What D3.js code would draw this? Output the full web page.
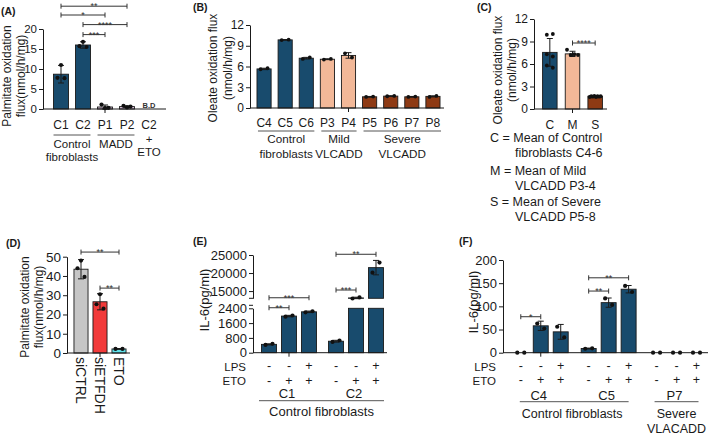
<!DOCTYPE html>
<html><head><meta charset="utf-8">
<script src="https://cdn.jsdelivr.net/npm/d3@7"></script>
<style>body{margin:0;background:#fff} svg{display:block}</style>
</head><body>
<script>
// ================= DATA =================
// Panel A: palmitate oxidation flux
const aCategories = ["C1","C2","P1","P2","C2+ETO"];
const aTickLabels = ["C1","C2","P1","P2","C2"];
const aMeans = [8.7, 16.0, 0.5, 0.6, null];
const aSD = [2.2, 0.8, 0.5, 0.2, null];
const aPoints = [[11.0,7.8,7.7],[16.8,15.7,15.5],[0.2,1.1,0.3],[0.4,0.8,0.6],[]];
const aYTicks = [0,5,10,15,20];
const aBrackets = [["C1","P2","**",25.7],["C1","P1","*",23.5],["C2","P2","****",21.1],["C2","P1","***",18.6]];

// Panel B: oleate oxidation flux
const bCategories = ["C4","C5","C6","P3","P4","P5","P6","P7","P8"];
const bMeans = [5.65, 9.85, 7.2, 7.05, 7.6, 1.62, 1.72, 1.62, 1.68];
const bSD = [0.1, 0.05, 0.12, 0.06, 0.4, 0.05, 0.05, 0.05, 0.08];
const bPoints = [[5.6,5.75],[9.82,9.88],[7.1,7.3],[7.0,7.1],[7.9,7.3],[1.6,1.65],[1.7,1.75],[1.6,1.65],[1.6,1.75]];
const bYTicks = [0,3,6,9,12];
const bGroups = [{from:"C4",to:"C6",lines:["Control","fibroblasts"]},{from:"P3",to:"P4",lines:["Mild","VLCADD"]},{from:"P5",to:"P8",lines:["Severe","VLCADD"]}];

// Panel C: group means
const cCategories = ["C","M","S"];
const cMeans = [7.55, 7.35, 1.7];
const cSD = [1.85, 0.35, 0.08];
const cPoints = [[9.9,10.0,7.3,7.0,5.8,5.5],[7.9,7.2,7.3,7.2],[1.6,1.7,1.65,1.75,1.6,1.7,1.65,1.7]];
const cYTicks = [0,3,6,9,12];
const cBrackets = [["M","S","****",8.8]];
const cLegend = [["C = Mean of Control","fibroblasts C4-6"],["M = Mean of Mild","VLCADD P3-4"],["S = Mean of Severe","VLCADD P5-8"]];

// Panel D
const dCategories = ["siCTRL","siETFDH","ETO"];
const dMeans = [43.5, 26.6, 2.1];
const dSD = [5.0, 4.2, 0.2];
const dPoints = [[48,44,39.5],[30.5,25.3,23],[2.1,2.1]];
const dYTicks = [0,10,20,30,40,50];
const dBrackets = [["siCTRL","ETO","**",52.4],["siETFDH","ETO","**",33.7]];

// Panel E: IL-6, broken axis
const eGroups = ["C1","C2"];
const eLPS = ["-","-","+"];
const eETO = ["-","+","+"];
const eMeans = [[450,1980,2210],[620,13100,21500]];
const eSD = [[30,40,40],[50,200,2000]];
const ePoints = [[[420,480],[1950,2010],[2180,2240]],[[580,660],[12950,13250],[20100,22900]]];
const eLowTicks = [0,800,1600,2400];
const eHighTicks = [15000,20000,25000];
const eBrackets = [["C1",0,1,"**",2430],["C1",0,2,"***",2970],["C2",0,1,"***",15300],["C2",0,2,"**",25200]];

// Panel F: IL-6
const fGroups = ["C4","C5","P7"];
const fLPS = ["-","-","+"];
const fETO = ["-","+","+"];
const fMeans = [[0,58,45],[9,108,137],[0,0,0]];
const fSD = [[0,10,16],[1,10,8],[0,0,0]];
const fPoints = [[[0,0],[63,52],[56,33]],[[8.5,9.5],[117,103],[144,131]],[[0,0],[0,0],[0,0]]];
const fYTicks = [0,50,100,150,200];
const fBrackets = [["C4",0,1,"*",77.6],["C5",0,1,"**",133],["C5",0,2,"**",161.6]];

// ================= STYLE =================
const FONT = "'Liberation Sans', Arial, Helvetica, sans-serif";
const INK = "#1a1a1a";
const COL = {blue:"#184b6d", lav:"#dcc3de", mild:"#f2b898", severe:"#8e3a14", gray:"#c6c6c6", red:"#f23a3a", cyan:"#5fe0e8"};

const svg = d3.select("body").append("svg").attr("width",709).attr("height",435).attr("font-family",FONT);

function txt(g, x, y, s, size, o={}) {
  const t = g.append("text").attr("x",x).attr("y",y).text(s).attr("font-size",size)
    .attr("fill",o.fill||INK).attr("text-anchor",o.anchor||"middle")
    .attr("dominant-baseline",o.baseline||"central").attr("font-family",FONT);
  if (o.weight) t.attr("font-weight",o.weight);
  if (o.rotate!=null) t.attr("transform",`rotate(${o.rotate},${x},${y})`);
  return t;
}
function panelLabel(x, y, s){ txt(svg,x,y,s,10.5,{anchor:"start",baseline:"auto",weight:"bold"}); }
function yAxis(g, y, ticks, x0, size, fmt) {
  const ax = d3.axisLeft(y).tickValues(ticks).tickSize(4).tickSizeOuter(0).tickPadding(2);
  if (fmt) ax.tickFormat(fmt);
  const a = g.append("g").attr("transform",`translate(${x0},0)`).call(ax);
  a.select(".domain").attr("stroke",INK).attr("stroke-width",1);
  a.selectAll(".tick line").attr("stroke",INK);
  a.selectAll(".tick text").attr("font-size",size).attr("fill",INK).attr("font-family",FONT);
  return a;
}
function hline(g,x0,x1,y,c=INK){ g.append("line").attr("x1",x0).attr("x2",x1).attr("y1",y).attr("y2",y).attr("stroke",c).attr("stroke-width",1); }
function vtick(g,x,y){ g.append("line").attr("x1",x).attr("x2",x).attr("y1",y).attr("y2",y+4).attr("stroke",INK).attr("stroke-width",1); }
function bracket(g,x1,x2,y,label){
  g.append("path").attr("d",`M${x1},${y-2.5}V${y+2.5}M${x1},${y}H${x2}M${x2},${y-2.5}V${y+2.5}`)
    .attr("stroke","#333").attr("fill","none").attr("stroke-width",1);
  g.append("text").attr("x",(x1+x2)/2).attr("y",y+3.2).attr("text-anchor","middle")
    .attr("font-size",9).attr("fill","#333").attr("font-family",FONT).text(label);
}
function offsets(n){
  if(n===1) return [0]; if(n===2) return [-3.5,3.5]; if(n===3) return [0,-3.5,3.5];
  if(n===6) return [-3,3,-3,3,-3,3];
  const w=11; return d3.range(n).map(i=>-w/2+w*i/(n-1));
}
function errbar(g,cx,yTop,yBot,cap=3){
  g.append("path").attr("d",`M${cx-cap},${yTop}H${cx+cap}M${cx},${yTop}V${yBot}M${cx-cap},${yBot}H${cx+cap}`)
    .attr("stroke",INK).attr("stroke-width",1).attr("fill","none");
}
function drawBar(g, x0, bw, yBase, yVal, fill){
  g.append("rect").attr("x",x0).attr("width",bw).attr("y",Math.min(yBase,yVal))
    .attr("height",Math.abs(yBase-yVal)).attr("fill",fill).attr("stroke",INK).attr("stroke-width",0.9);
}
function drawPoints(g, cx, ys, r=2){
  const off = offsets(ys.length);
  ys.forEach((yy,i)=> g.append("circle").attr("cx",cx+off[i]).attr("cy",yy).attr("r",r).attr("fill","#111"));
}
function simpleBars(g,x,y,cats,means,sds,pts,colors,r){
  const bw = x.bandwidth();
  cats.forEach((c,i)=>{
    if (means[i]==null) return;
    const cx = x(c)+bw/2;
    drawBar(g,x(c),bw,y(0),y(means[i]),colors[i]);
    if (sds[i]>0) errbar(g,cx,y(means[i]+sds[i]),y(means[i]-sds[i]));
    drawPoints(g,cx,pts[i].map(v=>y(v)),r);
  });
}

// ================= PANEL A =================
(function(){
  const g = svg.append("g");
  const y = d3.scaleLinear().domain([0,20]).range([109,29]);
  const x = d3.scaleBand().domain(aCategories).range([50,160]).paddingInner(0.32).paddingOuter(0.16);
  const colors = [COL.blue,COL.blue,COL.lav,COL.lav,COL.lav];
  simpleBars(g,x,y,aCategories,aMeans,aSD,aPoints,colors,2.1);
  yAxis(g,y,aYTicks,43,11.5);
  hline(g,43,166,y(0));
  vtick(g,x("P1")+x.bandwidth()/2,y(0));
  const cx = c=>x(c)+x.bandwidth()/2;
  txt(g,cx("C2+ETO"),105,"B.D",7.5,{weight:"bold",fill:"#333"});
  aCategories.forEach((c,i)=>txt(g,cx(c),125,aTickLabels[i],12));
  hline(g,x("C1"),x("C2")+x.bandwidth(),135,"#555");
  txt(g,(x("C1")+x("C2")+x.bandwidth())/2,143.5,"Control",11.5);
  txt(g,(x("C1")+x("C2")+x.bandwidth())/2,157,"fibroblasts",11.5);
  hline(g,x("P1"),x("P2")+x.bandwidth(),135,"#555");
  txt(g,(x("P1")+x("P2")+x.bandwidth())/2,143.5,"MADD",11.5);
  txt(g,cx("C2+ETO"),139,"+",11.5);
  txt(g,cx("C2+ETO"),152,"ETO",11.5);
  aBrackets.forEach(b=>bracket(g,cx(b[0]),cx(b[1]),y(b[3]),b[2]));
  txt(g,7,76,"Palmitate oxidation",12,{rotate:-90});
  txt(g,21,76,"flux(nmol/h/mg)",12,{rotate:-90});
  panelLabel(1,15,"(A)");
})();

// ================= PANEL B =================
(function(){
  const g = svg.append("g");
  const y = d3.scaleLinear().domain([0,12]).range([108,25]);
  const x = d3.scaleBand().domain(bCategories).range([253.5,443.5]).paddingInner(0.33).paddingOuter(0.165);
  const colors = bCategories.map(c=> c[0]==="C"?COL.blue:(c==="P3"||c==="P4"?COL.mild:COL.severe));
  simpleBars(g,x,y,bCategories,bMeans,bSD,bPoints,colors,1.9);
  yAxis(g,y,bYTicks,250,12);
  hline(g,250,444,y(0));
  const bw = x.bandwidth();
  vtick(g,x("P4")+bw/2,y(0));
  bCategories.forEach(c=>txt(g,x(c)+bw/2,123,c,12));
  bGroups.forEach(gr=>{
    const x0 = x(gr.from)+1, x1 = x(gr.to)+bw+1;
    hline(g,x0,x1,131,"#555");
    txt(g,(x0+x1)/2,138.5,gr.lines[0],11.7);
    txt(g,(x0+x1)/2,153.5,gr.lines[1],11.7);
  });
  txt(g,213,68,"Oleate oxidation flux",12,{rotate:-90});
  txt(g,228,68,"(nmol/h/mg)",12,{rotate:-90});
  panelLabel(193,11,"(B)");
})();

// ================= PANEL C =================
(function(){
  const g = svg.append("g");
  const y = d3.scaleLinear().domain([0,12]).range([109,19]);
  const x = d3.scaleBand().domain(cCategories).range([538.5,606.5]).paddingInner(0.36).paddingOuter(0.18);
  const colors = [COL.blue,COL.mild,COL.severe];
  simpleBars(g,x,y,cCategories,cMeans,cSD,cPoints,colors,1.9);
  yAxis(g,y,cYTicks,534,12);
  hline(g,534,607,y(0));
  const bw = x.bandwidth(), cx = c=>x(c)+bw/2;
  vtick(g,cx("M"),y(0));
  cCategories.forEach(c=>txt(g,cx(c),125,c,12));
  cBrackets.forEach(b=>bracket(g,cx(b[0]),cx(b[1]),y(b[3]),b[2]));
  const ly = [[138,152.7],[171,185.5],[201.7,217.3]];
  cLegend.forEach((l,i)=>{
    txt(g,490,ly[i][0],l[0],12.5,{anchor:"start"});
    txt(g,515,ly[i][1],l[1],12.5,{anchor:"start"});
  });
  txt(g,498,70,"Oleate oxidation flux",12,{rotate:-90});
  txt(g,512,70,"(nmol/h/mg)",12,{rotate:-90});
  panelLabel(477,11,"(C)");
})();

// ================= PANEL D =================
(function(){
  const g = svg.append("g");
  const y = d3.scaleLinear().domain([0,50]).range([353,256.7]);
  const x = d3.scaleBand().domain(dCategories).range([71.5,128.5]).paddingInner(0.26).paddingOuter(0.13);
  const colors = [COL.gray,COL.red,COL.cyan];
  simpleBars(g,x,y,dCategories,dMeans,dSD,dPoints,colors,2.1);
  yAxis(g,y,dYTicks,67,13.5);
  hline(g,67,130,y(0));
  const bw = x.bandwidth(), cx = c=>x(c)+bw/2;
  vtick(g,cx("siETFDH"),y(0));
  dCategories.forEach(c=>{
    g.append("text").attr("x",0).attr("y",0).attr("transform",`translate(${cx(c)},357) rotate(90)`)
      .attr("font-size",14).attr("fill",INK).attr("font-family",FONT).attr("dominant-baseline","central").text(c);
  });
  dBrackets.forEach(b=>bracket(g,cx(b[0]),cx(b[1]),y(b[3]),b[2]));
  txt(g,25,307,"Palmitate oxidation",12,{rotate:-90});
  txt(g,39,307,"flux(nmol/h/mg)",12,{rotate:-90});
  panelLabel(6,247,"(D)");
})();

// ================= PANEL E =================
(function(){
  const g = svg.append("g");
  const yLow = d3.scaleLinear().domain([0,2400]).range([352.7,308.3]);
  const yHigh = d3.scaleLinear().domain([13000,25000]).range([298.3,255]);
  const eY = v => v<=3000 ? yLow(v) : yHigh(v);
  const x0 = d3.scaleBand().domain(eGroups).range([259,386]).paddingInner(7/67).paddingOuter(0);
  const x1 = d3.scaleBand().domain([0,1,2]).range([0,x0.bandwidth()]).paddingInner(0.25).paddingOuter(0.125);
  const bw = x1.bandwidth();
  const cx = (gr,i)=>x0(gr)+x1(i)+bw/2;
  eGroups.forEach((gr,gi)=>{
    [0,1,2].forEach(i=>{
      const v = eMeans[gi][i], bx = x0(gr)+x1(i);
      drawBar(g,bx,bw,yLow(0),yLow(Math.min(v,2400)),COL.blue);
      if (v>yHigh.domain()[0]) drawBar(g,bx,bw,yHigh(yHigh.domain()[0]),yHigh(v),COL.blue);
      const sd = eSD[gi][i];
      errbar(g,cx(gr,i),eY(v+sd),eY(v-sd));
      drawPoints(g,cx(gr,i),ePoints[gi][i].map(eY),2.1);
    });
  });
  const fmt = d3.format("d");
  yAxis(g,yHigh,eHighTicks,253,13,fmt);
  yAxis(g,yLow,eLowTicks,253,13,fmt);
  g.append("path").attr("d",`M249,${yHigh(13000)}H253M249,${yLow(2400)-3}H253`).attr("stroke",INK);
  hline(g,253,387,yLow(0));
  vtick(g,cx("C1",1),yLow(0));
  eBrackets.forEach(b=>bracket(g,cx(b[0],b[1]),cx(b[0],b[2]),eY(b[4]),b[3]));
  txt(g,246,366.5,"LPS",11.5,{anchor:"end"});
  txt(g,246,381,"ETO",11.5,{anchor:"end"});
  eGroups.forEach(gr=>{
    [0,1,2].forEach(i=>{
      txt(g,cx(gr,i),366,eLPS[i],12.5);
      txt(g,cx(gr,i),380.5,eETO[i],12.5);
    });
    txt(g,x0(gr)+x0.bandwidth()/2-2,393.5,gr,13);
  });
  const lx0 = cx("C1",0)-10, lx1 = cx("C2",2)+8;
  hline(g,lx0,lx1,400.7,"#555");
  txt(g,(lx0+lx1)/2,411.5,"Control fibroblasts",13);
  txt(g,204,300,"IL-6(pg/ml)",13,{rotate:-90});
  panelLabel(193,245,"(E)");
})();

// ================= PANEL F =================
(function(){
  const g = svg.append("g");
  const y = d3.scaleLinear().domain([0,200]).range([352.7,260]);
  const x0 = d3.scaleBand().domain(fGroups).range([510.8,706.5]).paddingInner(8/68).paddingOuter(0);
  const x1 = d3.scaleBand().domain([0,1,2]).range([0,x0.bandwidth()]).paddingInner(0.25).paddingOuter(0.125);
  const bw = x1.bandwidth();
  const cx = (gr,i)=>x0(gr)+x1(i)+bw/2;
  fGroups.forEach((gr,gi)=>{
    [0,1,2].forEach(i=>{
      const v = fMeans[gi][i];
      if (v>0) drawBar(g,x0(gr)+x1(i),bw,y(0),y(v),COL.blue);
      const sd = fSD[gi][i];
      if (sd>0) errbar(g,cx(gr,i),y(v+sd),y(v-sd));
      drawPoints(g,cx(gr,i),fPoints[gi][i].map(y),2.1);
    });
  });
  yAxis(g,y,fYTicks,503,13);
  hline(g,503,708,y(0));
  vtick(g,cx("C4",1),y(0));
  fBrackets.forEach(b=>bracket(g,cx(b[0],b[1]),cx(b[0],b[2]),y(b[4]),b[3]));
  txt(g,496,366.5,"LPS",11.5,{anchor:"end"});
  txt(g,496,380.5,"ETO",11.5,{anchor:"end"});
  fGroups.forEach(gr=>{
    [0,1,2].forEach(i=>{
      txt(g,cx(gr,i),366,fLPS[i],12.5);
      txt(g,cx(gr,i),380,fETO[i],12.5);
    });
    txt(g,cx(gr,1)-2,395,gr,13);
  });
  const c0 = cx("C4",0)-1, c1 = cx("C5",2);
  hline(g,c0,c1,401.7,"#555");
  txt(g,(c0+c1)/2-2,413.5,"Control fibroblasts",12.5);
  const p0 = cx("P7",0)-2, p1 = cx("P7",2)+2;
  hline(g,p0,p1,401.7,"#555");
  txt(g,(p0+p1)/2,413.5,"Severe",12.5);
  txt(g,(p0+p1)/2,428.5,"VLACADD",12.5);
  txt(g,473,302,"IL-6(pg/ml)",13,{rotate:-90});
  panelLabel(459,245,"(F)");
})();
</script>
</body></html>
